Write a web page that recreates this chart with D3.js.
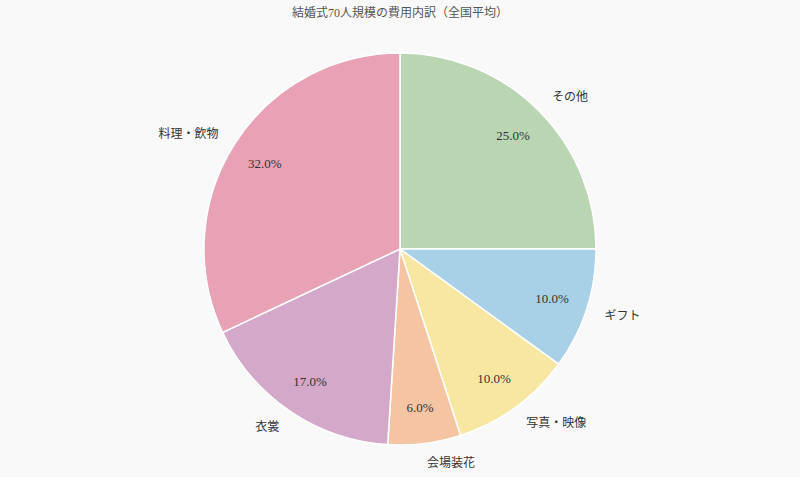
<!DOCTYPE html>
<html>
<head>
<meta charset="utf-8">
<script src="https://cdn.jsdelivr.net/npm/d3@7"></script>
<style>
  html, body { margin: 0; padding: 0; background: #f9f9f9; }
  svg text { font-family: "Liberation Serif", "DejaVu Serif", "Noto Sans CJK JP", serif; }
</style>
</head>
<body>
<div id="chart"></div>
<script>
const title = "結婚式70人規模の費用内訳（全国平均）";
const categories = ["その他", "ギフト", "写真・映像", "会場装花", "衣裳", "料理・飲物"];
const values = [25, 10, 10, 6, 17, 32];
const colors = ["#b9d5b2", "#a8d1e7", "#f8e7a1", "#f5c5a3", "#d4a8c9", "#e8a1b5"];

const width = 800, height = 477;
const cx = 400, cy = 249, radius = 196;

const svg = d3.select("#chart")
  .append("svg")
  .attr("width", width)
  .attr("height", height);

svg.append("rect")
  .attr("width", width)
  .attr("height", height)
  .attr("fill", "#f9f9f9");

svg.append("text")
  .attr("x", width / 2)
  .attr("y", 17)
  .attr("text-anchor", "middle")
  .style("font-size", "12px")
  .attr("fill", "#555")
  .text(title);

const data = categories.map((c, i) => ({ name: c, value: values[i], color: colors[i] }));

const pie = d3.pie()
  .value(d => d.value)
  .sort(null);

const arcs = pie(data);
const total = d3.sum(values);

const arc = d3.arc().innerRadius(0).outerRadius(radius);
const inner = d3.arc().innerRadius(160).outerRadius(160);
const outer = d3.arc().innerRadius(215).outerRadius(215);

const g = svg.append("g")
  .attr("transform", "translate(" + cx + "," + cy + ")");

g.selectAll("path")
  .data(arcs)
  .join("path")
  .attr("d", arc)
  .attr("fill", d => d.data.color)
  .attr("stroke", "#fff")
  .attr("stroke-width", 1.5);

// percentage labels inside
g.selectAll("text.pct")
  .data(arcs)
  .join("text")
  .attr("class", "pct")
  .attr("transform", d => "translate(" + inner.centroid(d) + ")")
  .attr("dy", "0.35em")
  .attr("text-anchor", "middle")
  .style("font-size", "13px")
  .attr("fill", "#333")
  .text(d => (d.data.value / total * 100).toFixed(1) + "%");

// category labels outside
g.selectAll("text.name")
  .data(arcs)
  .join("text")
  .attr("class", "name")
  .attr("transform", d => "translate(" + outer.centroid(d) + ")")
  .attr("dy", "0.35em")
  .attr("text-anchor", d => (d.startAngle + d.endAngle) / 2 < Math.PI ? "start" : "end")
  .style("font-size", "12px")
  .attr("fill", "#333")
  .text(d => d.data.name);
</script>
</body>
</html>
